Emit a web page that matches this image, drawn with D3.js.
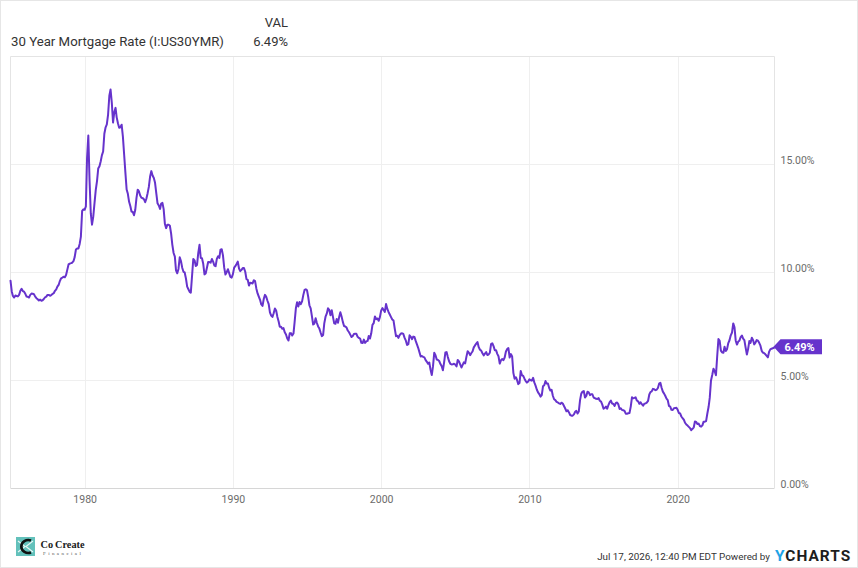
<!DOCTYPE html>
<html>
<head>
<meta charset="utf-8">
<script src="https://cdn.jsdelivr.net/npm/d3@7"></script>
<style>
  body { margin: 0; background: #fff; }
  svg { display: block; font-family: Roboto, "Noto Sans", sans-serif; }
</style>
</head>
<body>
<svg id="chart" width="858" height="568"></svg>
<script>
// ---------------- DATA ----------------
const seriesName = "30 Year Mortgage Rate (I:US30YMR)";
const valHeader = "VAL";
const lastValueText = "6.49%";
const startYear = 1975;   // first month: Jan 1975, monthly values
const rates = [
  // 1975
  9.60,9.10,8.89,8.82,8.91,8.89,8.87,8.94,9.13,9.22,9.12,9.09,
  // 1976
  8.99,8.86,8.85,8.82,8.94,9.00,8.99,8.97,8.86,8.79,8.74,8.68,
  // 1977
  8.72,8.67,8.69,8.75,8.83,8.86,8.94,8.94,8.90,8.93,8.98,9.02,
  // 1978
  9.13,9.20,9.32,9.40,9.58,9.71,9.74,9.78,9.76,9.86,10.11,10.35,
  // 1979
  10.39,10.41,10.43,10.50,10.69,11.04,11.09,11.09,11.30,11.64,12.83,12.90,
  // 1980
  12.88,13.04,15.28,16.32,14.26,12.71,12.19,12.56,13.20,13.79,14.21,14.79,
  // 1981
  14.90,15.13,15.40,15.58,16.40,16.70,16.83,17.29,18.16,18.45,17.83,16.92,
  // 1982
  17.40,17.60,17.16,16.89,16.68,16.70,16.82,16.27,15.43,14.61,13.82,13.62,
  // 1983
  13.25,13.04,12.80,12.78,12.63,12.87,13.42,13.81,13.73,13.54,13.44,13.42,
  // 1984
  13.37,13.23,13.39,13.65,13.94,14.42,14.67,14.47,14.35,14.13,13.64,13.18,
  // 1985
  13.08,12.92,13.17,13.20,12.91,12.22,12.03,12.19,12.19,12.14,11.78,11.26,
  // 1986
  10.88,10.71,10.08,9.94,10.14,10.68,10.51,10.20,10.01,9.98,9.70,9.32,
  // 1987
  9.20,9.08,9.04,9.83,10.60,10.54,10.28,10.33,10.89,11.26,10.65,10.64,
  // 1988
  10.38,9.89,9.93,10.20,10.46,10.46,10.43,10.60,10.48,10.30,10.27,10.61,
  // 1989
  10.73,10.65,11.03,11.05,10.77,10.20,9.88,9.99,10.13,9.95,9.77,9.74,
  // 1990
  9.90,10.20,10.27,10.37,10.48,10.16,10.04,10.10,10.18,10.18,10.01,9.67,
  // 1991
  9.64,9.37,9.50,9.49,9.47,9.62,9.58,9.24,9.01,8.86,8.71,8.50,
  // 1992
  8.43,8.76,8.94,8.85,8.67,8.51,8.13,7.98,7.92,8.09,8.31,8.22,
  // 1993
  7.92,7.71,7.46,7.46,7.37,7.40,7.21,7.11,6.92,6.83,7.16,7.17,
  // 1994
  7.06,7.15,7.68,8.32,8.60,8.40,8.61,8.51,8.64,8.93,9.17,9.20,
  // 1995
  9.15,8.83,8.46,8.32,7.96,7.57,7.61,7.86,7.64,7.48,7.38,7.20,
  // 1996
  7.03,7.08,7.62,7.93,8.07,8.32,8.25,8.00,8.23,7.92,7.62,7.60,
  // 1997
  7.82,7.65,7.90,8.14,7.94,7.69,7.50,7.48,7.43,7.29,7.21,7.10,
  // 1998
  6.99,7.04,7.13,7.14,7.14,7.00,6.95,6.92,6.72,6.71,6.87,6.72,
  // 1999
  6.79,6.81,7.04,6.92,7.15,7.55,7.63,7.94,7.82,7.85,7.74,7.91,
  // 2000
  8.21,8.33,8.24,8.15,8.52,8.29,8.15,8.03,7.91,7.80,7.75,7.38,
  // 2001
  7.03,7.05,6.95,7.08,7.15,7.16,7.13,6.95,6.82,6.62,6.66,7.07,
  // 2002
  7.00,6.89,7.01,6.99,6.81,6.65,6.49,6.29,6.09,6.11,6.07,6.05,
  // 2003
  5.92,5.84,5.75,5.81,5.48,5.23,5.63,6.26,6.15,5.95,5.93,5.88,
  // 2004
  5.74,5.64,5.45,5.83,6.27,6.29,6.06,5.87,5.75,5.72,5.73,5.75,
  // 2005
  5.71,5.63,5.93,5.86,5.72,5.58,5.70,5.82,5.77,6.07,6.33,6.27,
  // 2006
  6.15,6.25,6.32,6.51,6.60,6.68,6.76,6.52,6.40,6.36,6.24,6.14,
  // 2007
  6.22,6.29,6.16,6.18,6.26,6.66,6.70,6.57,6.38,6.38,6.21,6.10,
  // 2008
  5.76,5.92,5.97,5.92,6.04,6.32,6.43,6.48,6.04,6.20,6.09,5.33,
  // 2009
  5.06,5.13,5.00,4.81,4.86,5.42,5.22,5.19,5.06,4.95,4.88,4.93,
  // 2010
  5.03,4.99,4.97,5.10,4.89,4.74,4.56,4.43,4.35,4.23,4.30,4.71,
  // 2011
  4.76,4.95,4.84,4.84,4.64,4.51,4.55,4.27,4.11,4.07,3.99,3.96,
  // 2012
  3.92,3.89,3.95,3.91,3.80,3.68,3.55,3.60,3.50,3.38,3.35,3.35,
  // 2013
  3.41,3.53,3.57,3.45,3.54,4.07,4.37,4.46,4.49,4.19,4.26,4.46,
  // 2014
  4.43,4.30,4.34,4.34,4.19,4.16,4.13,4.12,4.16,4.04,4.00,3.86,
  // 2015
  3.67,3.71,3.77,3.67,3.84,3.98,4.05,3.91,3.89,3.80,3.94,3.96,
  // 2016
  3.87,3.66,3.69,3.61,3.60,3.57,3.44,3.44,3.46,3.47,3.77,4.20,
  // 2017
  4.15,4.17,4.20,4.05,4.01,3.90,3.97,3.88,3.81,3.90,3.92,3.95,
  // 2018
  4.03,4.33,4.44,4.47,4.59,4.57,4.53,4.55,4.63,4.83,4.87,4.64,
  // 2019
  4.46,4.37,4.27,4.14,4.07,3.80,3.77,3.62,3.61,3.69,3.70,3.72,
  // 2020
  3.62,3.47,3.45,3.31,3.23,3.16,3.02,2.94,2.89,2.83,2.77,2.68,
  // 2021
  2.74,2.81,3.08,3.06,2.96,2.98,2.87,2.84,2.90,3.07,3.07,3.10,
  // 2022
  3.45,3.76,4.17,4.98,5.23,5.52,5.41,5.22,6.11,6.90,6.81,6.36,
  // 2023
  6.27,6.26,6.54,6.34,6.43,6.71,6.84,7.07,7.20,7.62,7.44,6.82,
  // 2024
  6.64,6.78,6.82,6.99,7.06,6.92,6.85,6.50,6.18,6.43,6.81,6.72,
  // 2025
  6.96,6.84,6.65,6.73,6.85,6.82,6.72,6.59,6.35,6.27,6.24,6.19,
  // 2026
  6.12,6.05,6.30,6.42,6.45,6.47,6.49
];
const yTicks = [0, 5, 10, 15];
const xTickYears = [1980, 1990, 2000, 2010, 2020];
const footerText = "Jul 17, 2026, 12:40 PM EDT Powered by";

// ---------------- LAYOUT ----------------
const W = 858, H = 568;
const plot = { left: 10.5, right: 774, top: 56, bottom: 488 };
const lineColor = "#6633cc";
const gridColor = "#efefef";
const frameColor = "#e4e4e4";
const textGray = "#6b6b6b";

const data = rates.map((v, i) => ({ date: new Date(startYear, i, 1), value: v }));

const svg = d3.select("#chart");

// outer frame
svg.append("rect")
  .attr("x", 0.5).attr("y", 0.5).attr("width", W - 1).attr("height", H - 1)
  .attr("fill", "#fff").attr("stroke", "#e6e6e6");

const x = d3.scaleTime()
  .domain(d3.extent(data, d => d.date))
  .range([plot.left, plot.right]);
const y = d3.scaleLinear()
  .domain([0, 20])
  .range([plot.bottom, plot.top]);

// gridlines
const xTickDates = xTickYears.map(yr => new Date(yr, 0, 1));
svg.append("g").attr("class", "vgrid")
  .selectAll("line").data(xTickDates).join("line")
  .attr("x1", d => Math.round(x(d)) + 0.5).attr("x2", d => Math.round(x(d)) + 0.5)
  .attr("y1", plot.top).attr("y2", plot.bottom)
  .attr("stroke", gridColor);
svg.append("g").attr("class", "hgrid")
  .selectAll("line").data(yTicks.filter(t => t > 0)).join("line")
  .attr("x1", plot.left).attr("x2", plot.right)
  .attr("y1", d => Math.round(y(d)) + 0.5).attr("y2", d => Math.round(y(d)) + 0.5)
  .attr("stroke", gridColor);

// plot frame (left, top, right) and bottom axis line
svg.append("path")
  .attr("d", `M${plot.left},${plot.bottom}V${plot.top + 0.5}H${plot.right + 0.5}V${plot.bottom}`)
  .attr("fill", "none").attr("stroke", frameColor);
svg.append("line")
  .attr("x1", plot.left).attr("x2", plot.right + 0.5)
  .attr("y1", plot.bottom + 0.5).attr("y2", plot.bottom + 0.5)
  .attr("stroke", "#d6d6d6");

// x axis labels via d3 axis
const xAxis = d3.axisBottom(x)
  .tickValues(xTickDates)
  .tickFormat(d3.timeFormat("%Y"))
  .tickSize(0).tickPadding(8);
const gx = svg.append("g").attr("transform", `translate(0,${plot.bottom})`).call(xAxis);
gx.select(".domain").remove();
gx.selectAll("text")
  .attr("fill", textGray).style("font-size", "10.5px").style("font-family", "Roboto, sans-serif");

// y axis labels (right side, baseline on grid line)
const yAxis = d3.axisRight(y)
  .tickValues(yTicks)
  .tickFormat(d => d3.format(".2f")(d) + "%")
  .tickSize(0).tickPadding(6);
const gy = svg.append("g").attr("transform", `translate(${plot.right},0)`).call(yAxis);
gy.select(".domain").remove();
gy.selectAll("text")
  .attr("fill", textGray).attr("dy", "-0.05em").attr("dominant-baseline", "auto")
  .attr("y", 0)
  .style("font-size", "10.5px").style("font-family", "Roboto, sans-serif");
gy.selectAll(".tick text").attr("x", 780.5 - plot.right);

// line
const line = d3.line()
  .x(d => x(d.date))
  .y(d => y(d.value))
  .curve(d3.curveLinear);
svg.append("path")
  .datum(data)
  .attr("d", line)
  .attr("fill", "none")
  .attr("stroke", lineColor)
  .attr("stroke-width", 2)
  .attr("stroke-linejoin", "round")
  .attr("stroke-linecap", "round");

// end-value label
const last = data[data.length - 1];
const ly = y(last.value);
const tipX = plot.right - 0.5;
svg.append("path")
  .attr("d", `M${tipX},${ly - 1}L${tipX + 7},${ly - 8.5}H${plot.right + 48}V${ly + 6.5}H${tipX + 7}Z`)
  .attr("fill", lineColor);
svg.append("text")
  .attr("x", tipX + 11).attr("y", ly + 3)
  .attr("fill", "#fff").style("font-size", "11px").style("font-weight", "700")
  .text(lastValueText);

// header
function fitText(sel, width) {
  const node = sel.node();
  const fs = parseFloat(sel.style("font-size"));
  const len = node.getComputedTextLength();
  if (len > 0) sel.style("font-size", (fs * width / len) + "px");
}
svg.append("text")
  .attr("x", 288).attr("y", 27).attr("text-anchor", "end")
  .attr("fill", "#333").style("font-size", "13px")
  .text(valHeader);
const nameT = svg.append("text")
  .attr("x", 11).attr("y", 46)
  .attr("fill", "#333").style("font-size", "13px")
  .text(seriesName);
fitText(nameT, 213);
svg.append("text")
  .attr("x", 288).attr("y", 46).attr("text-anchor", "end")
  .attr("fill", "#333").style("font-size", "13px")
  .text(last.value.toFixed(2) + "%");

// footer
const foot = svg.append("text")
  .attr("x", 770).attr("y", 560).attr("text-anchor", "end")
  .attr("fill", "#333").style("font-size", "12px")
  .text(footerText);
fitText(foot, 173);

// YCHARTS logo (text)
const logo = svg.append("text")
  .attr("x", 775).attr("y", 560.5)
  .style("font-size", "16px").style("font-weight", "700")
  .style("letter-spacing", "1px");
logo.append("tspan").attr("fill", "#1fa3e6").text("Y");
logo.append("tspan").attr("fill", "#1d1d1d").text("CHARTS");
fitText(logo, 76);

// Co|Create logo
const lg = svg.append("g");
lg.append("rect").attr("x", 16).attr("y", 537).attr("width", 19).attr("height", 19).attr("fill", "#63c1bb");
lg.append("path").attr("d", "M18,541 L25,546.5 L18,552 M33,541 L26,546.5 L33,552")
  .attr("stroke", "#e6f6f4").attr("stroke-width", 1.2).attr("fill", "none");
lg.append("path").attr("d", "M31,540.5 A7,6.5 0 1 0 31,552.5")
  .attr("stroke", "#111").attr("stroke-width", 2.6).attr("fill", "none");
const ct = lg.append("text").attr("x", 40.5).attr("y", 548)
  .attr("fill", "#1a1a1a").style("font-family", "'Liberation Serif', 'DejaVu Serif', serif")
  .style("font-size", "11px").style("font-weight", "700").text("Co\u2009Create");
fitText(ct, 44);
const ft = lg.append("text").attr("x", 43).attr("y", 554.5)
  .attr("fill", "#555").style("font-family", "'Liberation Serif', serif")
  .style("font-size", "5px").style("letter-spacing", "2.4px").text("Financial");
</script>
</body>
</html>
